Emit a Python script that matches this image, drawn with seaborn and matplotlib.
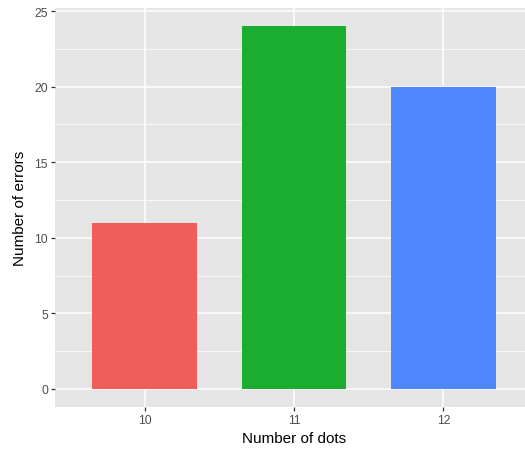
import pandas as pd
import seaborn as sns
import matplotlib.pyplot as plt
from matplotlib.ticker import MultipleLocator

# values
dots = ['10', '11', '12']
errors = [11, 24, 20]
colors = ['#F15E5A', '#1AAD2F', '#4F87FF']

df = pd.DataFrame({'dots': dots, 'errors': errors})

sns.set_theme(style='darkgrid', rc={
    'axes.facecolor': '#E5E5E5',
    'grid.color': 'white',
    'axes.edgecolor': '#E5E5E5',
})
plt.rcParams['font.family'] = ['Liberation Sans', 'DejaVu Sans']

fig = plt.figure(figsize=(5.25, 4.52), dpi=100)
ax = fig.add_axes([55 / 525, 44 / 452, 478 / 525, 399 / 452])

sns.barplot(data=df, x='dots', y='errors', hue='dots', palette=colors,
            width=0.7, legend=False, saturation=1, linewidth=0, ax=ax)

ax.set_xlim(-0.6, 2.6)
ax.set_ylim(-1.2, 25.2)
ax.yaxis.set_major_locator(MultipleLocator(5))
ax.yaxis.set_minor_locator(MultipleLocator(2.5))
ax.grid(which='major', color='white', linewidth=1.1)
ax.grid(which='minor', axis='y', color='white', linewidth=0.5)
ax.set_axisbelow(True)
for s in ax.spines.values():
    s.set_visible(False)

ax.tick_params(axis='both', which='major', length=3, width=0.9, color='#333333',
               labelsize=8.8, labelcolor='#4D4D4D', pad=2, left=True, bottom=True)
ax.tick_params(which='minor', length=0)

ax.set_xlabel('Number of dots', fontsize=11, color='black', labelpad=4)
ax.set_ylabel('Number of errors', fontsize=11, color='black', labelpad=5)

fig.savefig('out.png', dpi=100)
